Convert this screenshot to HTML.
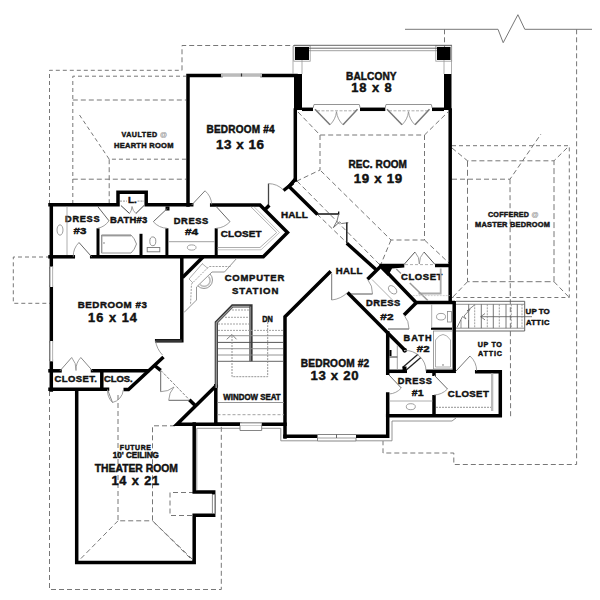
<!DOCTYPE html>
<html><head><meta charset="utf-8"><style>
html,body{margin:0;padding:0;background:#fff;width:600px;height:600px;overflow:hidden}
svg{display:block}
text{font-family:"Liberation Sans",sans-serif;font-weight:bold;stroke:#111;stroke-width:0.45px}
</style></head><body>
<svg width="600" height="600" viewBox="0 0 600 600">
<rect width="600" height="600" fill="#fff"/>
<polyline points="405,29.3 498,29.3 503.2,42.7 517.9,14.7 524.8,29.3 592,29.3" fill="none" stroke="#777" stroke-width="1" stroke-linecap="butt" stroke-linejoin="miter"/>
<polyline points="444.5,29.3 444.5,47" fill="none" stroke="#777" stroke-width="1.0" stroke-dasharray="5 3" stroke-dashoffset="0"/>
<polyline points="576.6,29.3 576.6,464.5 453.8,464.5 453.8,453 383,453 383,441" fill="none" stroke="#777" stroke-width="1.0" stroke-dasharray="5 3" stroke-dashoffset="0"/>
<polyline points="182,70.3 182,45.5 294,45.5" fill="none" stroke="#777" stroke-width="1.0" stroke-dasharray="5 3" stroke-dashoffset="0"/>
<polyline points="49.5,204 49.5,70.3 182,70.3" fill="none" stroke="#777" stroke-width="1.0" stroke-dasharray="4 3" stroke-dashoffset="0"/>
<polyline points="72.8,204 72.8,76.2 186,76.2" fill="none" stroke="#777" stroke-width="1.0" stroke-dasharray="4 3" stroke-dashoffset="0"/>
<polyline points="72.8,100 186,100" fill="none" stroke="#777" stroke-width="1.0" stroke-dasharray="5 3" stroke-dashoffset="0"/>
<polyline points="79.5,115 109.2,159.2 186,159.2" fill="none" stroke="#777" stroke-width="1.0" stroke-dasharray="4 3" stroke-dashoffset="0"/>
<polyline points="109.2,159.2 109.2,204" fill="none" stroke="#777" stroke-width="1.0" stroke-dasharray="5 3" stroke-dashoffset="0"/>
<polyline points="72.8,179.2 186,179.2" fill="none" stroke="#777" stroke-width="1.0" stroke-dasharray="5 3" stroke-dashoffset="0"/>
<polyline points="50,257 13.3,257 13.3,303.3 50,303.3" fill="none" stroke="#777" stroke-width="1.0" stroke-dasharray="4 3" stroke-dashoffset="0"/>
<polyline points="49.5,391 49.5,589.5 221.3,589.5 221.3,425.8" fill="none" stroke="#777" stroke-width="1.0" stroke-dasharray="5 3" stroke-dashoffset="0"/>
<polyline points="118,395 118,520.8 152.5,520.8" fill="none" stroke="#777" stroke-width="1.0" stroke-dasharray="5 3" stroke-dashoffset="0"/>
<polyline points="175,425.8 152.5,425.8 152.5,520.8 194,560.8" fill="none" stroke="#777" stroke-width="1.0" stroke-dasharray="5 3" stroke-dashoffset="0"/>
<polyline points="118,520.8 78.7,560.8" fill="none" stroke="#777" stroke-width="1.0" stroke-dasharray="5 3" stroke-dashoffset="0"/>
<polyline points="152.5,520.8 194,562" fill="none" stroke="#777" stroke-width="1.0" stroke-dasharray="5 3" stroke-dashoffset="0"/>
<polyline points="194,492.5 170,492.5 170,515.5 194,515.5" fill="none" stroke="#777" stroke-width="1.0" stroke-dasharray="5 3" stroke-dashoffset="0"/>
<polyline points="298,112 320,135 424.5,135 448,112" fill="none" stroke="#777" stroke-width="1.0" stroke-dasharray="5 3" stroke-dashoffset="0"/>
<polyline points="320,135 320,170 297,181" fill="none" stroke="#777" stroke-width="1.0" stroke-dasharray="5 3" stroke-dashoffset="0"/>
<polyline points="424.5,135 424.5,240 391,240 320,170" fill="none" stroke="#777" stroke-width="1.0" stroke-dasharray="5 3" stroke-dashoffset="0"/>
<polyline points="391,240 381,264" fill="none" stroke="#777" stroke-width="1.0" stroke-dasharray="5 3" stroke-dashoffset="0"/>
<polyline points="424.5,240 449,263" fill="none" stroke="#777" stroke-width="1.0" stroke-dasharray="5 3" stroke-dashoffset="0"/>
<polyline points="297,181 381,266" fill="none" stroke="#777" stroke-width="1.0" stroke-dasharray="5 3" stroke-dashoffset="0"/>
<polyline points="317,214 347,243" fill="none" stroke="#777" stroke-width="1.0" stroke-dasharray="5 3" stroke-dashoffset="0"/>
<polyline points="452,145.7 569.3,145.7 569.3,297.5 452,297.5" fill="none" stroke="#777" stroke-width="1.0" stroke-dasharray="4 3" stroke-dashoffset="0"/>
<polyline points="452,148 467.5,160.8 554,160.8 569.3,145.7" fill="none" stroke="#777" stroke-width="1.0" stroke-dasharray="5 3" stroke-dashoffset="0"/>
<polyline points="467.5,160.8 467.5,281.7 554,281.7 554,160.8" fill="none" stroke="#777" stroke-width="1.0" stroke-dasharray="6 3" stroke-dashoffset="0"/>
<polyline points="467.5,281.7 452,298" fill="none" stroke="#777" stroke-width="1.0" stroke-dasharray="5 3" stroke-dashoffset="0"/>
<polyline points="554,281.7 569.3,297.5" fill="none" stroke="#777" stroke-width="1.0" stroke-dasharray="5 3" stroke-dashoffset="0"/>
<polyline points="452,179.2 510,179.2 541,134" fill="none" stroke="#777" stroke-width="1.0" stroke-dasharray="5 3" stroke-dashoffset="0"/>
<polyline points="510,179.2 510.6,417.5" fill="none" stroke="#777" stroke-width="1.0" stroke-dasharray="5 3" stroke-dashoffset="0"/>
<polyline points="188,205 188,75.5 221,75.5" fill="none" stroke="#000" stroke-width="3.5" stroke-linejoin="miter" stroke-linecap="square"/>
<polyline points="262,75.5 296,75.5" fill="none" stroke="#000" stroke-width="3.5" stroke-linejoin="miter" stroke-linecap="square"/>
<rect x="294" y="74" width="8" height="36" fill="#000"/>
<polyline points="295.3,110 295.3,180" fill="none" stroke="#000" stroke-width="3.5" stroke-linejoin="miter" stroke-linecap="square"/>
<polyline points="295.5,179 289,186.5 317.5,214.5" fill="none" stroke="#000" stroke-width="3.5" stroke-linejoin="miter" stroke-linecap="butt"/>
<polyline points="293,183 283.5,190.5" fill="none" stroke="#000" stroke-width="3.5" stroke-linejoin="miter" stroke-linecap="butt"/>
<polyline points="317,214 338.7,214 338.7,211.5" fill="none" stroke="#111" stroke-width="1.3" stroke-linecap="butt" stroke-linejoin="miter"/>
<polyline points="338.7,214 337,221 333.3,227.7 339.5,222 341.5,223.5 348.3,222.7" fill="none" stroke="#666" stroke-width="0.9" stroke-linecap="butt" stroke-linejoin="miter"/>
<polyline points="346.8,222.5 346.8,243.5" fill="none" stroke="#222" stroke-width="1.5" stroke-linecap="butt" stroke-linejoin="miter"/>
<polyline points="346.8,243.3 376.5,270" fill="none" stroke="#000" stroke-width="3.5" stroke-linejoin="miter" stroke-linecap="butt"/>
<polyline points="367.5,279.3 381.5,265.5" fill="none" stroke="#000" stroke-width="3.5" stroke-linejoin="miter" stroke-linecap="butt"/>
<polyline points="381,266 416,302.5 455,302.5" fill="none" stroke="#000" stroke-width="3.5" stroke-linejoin="miter" stroke-linecap="butt"/>
<polyline points="416.5,302.5 404,315" fill="none" stroke="#000" stroke-width="3.5" stroke-linejoin="miter" stroke-linecap="butt"/>
<polygon points="379,263.8 404.3,263.8 404.3,267.5 392,268.5 388,276 381,269" fill="#000"/>
<rect x="293.8" y="45.8" width="16.4" height="15.4" fill="none" stroke="#999" stroke-width="0.8"/>
<rect x="435.8" y="45.8" width="15.9" height="15.4" fill="none" stroke="#999" stroke-width="0.8"/>
<rect x="295" y="47" width="14" height="13" fill="#000"/>
<rect x="437" y="47" width="13.5" height="13" fill="#000"/>
<polyline points="293,46 293,74" fill="none" stroke="#999" stroke-width="0.8" stroke-linecap="butt" stroke-linejoin="miter"/>
<polyline points="302,60 302,74" fill="none" stroke="#999" stroke-width="0.8" stroke-linecap="butt" stroke-linejoin="miter"/>
<polyline points="444,60 444,74" fill="none" stroke="#999" stroke-width="0.8" stroke-linecap="butt" stroke-linejoin="miter"/>
<polyline points="451.5,46 451.5,74" fill="none" stroke="#999" stroke-width="0.8" stroke-linecap="butt" stroke-linejoin="miter"/>
<polyline points="294,45.3 452,45.3" fill="none" stroke="#555" stroke-width="0.9" stroke-linecap="butt" stroke-linejoin="miter"/>
<polyline points="309,48.2 437,48.2" fill="none" stroke="#555" stroke-width="0.9" stroke-linecap="butt" stroke-linejoin="miter"/>
<polyline points="309,50.7 437,50.7" fill="none" stroke="#888" stroke-width="0.8" stroke-linecap="butt" stroke-linejoin="miter"/>
<polyline points="302,109.3 313,109.3" fill="none" stroke="#000" stroke-width="3.5" stroke-linejoin="miter" stroke-linecap="butt"/>
<polyline points="360,109.3 385.3,109.3" fill="none" stroke="#000" stroke-width="3.5" stroke-linejoin="miter" stroke-linecap="butt"/>
<polyline points="432,109.3 444,109.3" fill="none" stroke="#000" stroke-width="3.5" stroke-linejoin="miter" stroke-linecap="butt"/>
<rect x="444" y="74" width="7.5" height="36" fill="#000"/>
<polyline points="450.2,110 450.2,302" fill="none" stroke="#000" stroke-width="3.5" stroke-linejoin="miter" stroke-linecap="square"/>
<polyline points="435,265.5 450,265.5" fill="none" stroke="#000" stroke-width="3.5" stroke-linejoin="miter" stroke-linecap="butt"/>
<polyline points="454.2,301 454.2,372" fill="none" stroke="#000" stroke-width="3.5" stroke-linejoin="miter" stroke-linecap="butt"/>
<polyline points="431,328.7 452,328.7" fill="none" stroke="#000" stroke-width="2.2" stroke-linejoin="miter" stroke-linecap="butt"/>
<polyline points="285,437 285,316.7 329.5,272.5" fill="none" stroke="#000" stroke-width="3.5" stroke-linejoin="miter" stroke-linecap="square"/>
<polyline points="347.5,292.5 404.7,350" fill="none" stroke="#000" stroke-width="3.5" stroke-linejoin="miter" stroke-linecap="butt"/>
<polyline points="387.7,331 387.7,375" fill="none" stroke="#000" stroke-width="3.5" stroke-linejoin="miter" stroke-linecap="butt"/>
<polyline points="387.7,394 387.7,436.2 356,436.2" fill="none" stroke="#000" stroke-width="3.5" stroke-linejoin="miter" stroke-linecap="square"/>
<polyline points="317.5,436.2 285,436.2" fill="none" stroke="#000" stroke-width="3.5" stroke-linejoin="miter" stroke-linecap="square"/>
<polyline points="387.7,371.3 407,371.3" fill="none" stroke="#000" stroke-width="3.5" stroke-linejoin="miter" stroke-linecap="butt"/>
<polyline points="426,371.3 456,371.3" fill="none" stroke="#000" stroke-width="3.5" stroke-linejoin="miter" stroke-linecap="butt"/>
<polyline points="476.7,371.7 500.3,371.7 500.3,415.8 387.7,415.8" fill="none" stroke="#000" stroke-width="3.5" stroke-linejoin="miter" stroke-linecap="square"/>
<polyline points="434,371 434,376" fill="none" stroke="#000" stroke-width="3.5" stroke-linejoin="miter" stroke-linecap="butt"/>
<polyline points="434,395 434,416" fill="none" stroke="#000" stroke-width="3.5" stroke-linejoin="miter" stroke-linecap="butt"/>
<polyline points="51.3,204.8 51.3,267" fill="none" stroke="#000" stroke-width="3.5" stroke-linejoin="miter" stroke-linecap="square"/>
<polyline points="51.3,287 51.3,341" fill="none" stroke="#000" stroke-width="3.5" stroke-linejoin="miter" stroke-linecap="square"/>
<polyline points="51.3,361 51.3,390" fill="none" stroke="#000" stroke-width="3.5" stroke-linejoin="miter" stroke-linecap="square"/>
<polyline points="50,204.8 118,204.8 118,192.2 146.2,192.2 146.2,204.8 191.7,204.8" fill="none" stroke="#000" stroke-width="3.5" stroke-linejoin="miter" stroke-linecap="square"/>
<polyline points="211.7,205 260,205 287.5,232.5 263.3,256.8 91.7,256.8" fill="none" stroke="#000" stroke-width="3.5" stroke-linejoin="miter" stroke-linecap="square"/>
<polyline points="50,256.8 73.3,256.8" fill="none" stroke="#000" stroke-width="3.5" stroke-linejoin="miter" stroke-linecap="square"/>
<polyline points="98,228.3 98,257" fill="none" stroke="#000" stroke-width="3" stroke-linejoin="miter" stroke-linecap="butt"/>
<polyline points="141,233.8 141,257" fill="none" stroke="#000" stroke-width="3" stroke-linejoin="miter" stroke-linecap="butt"/>
<polyline points="166.9,228.3 166.9,257" fill="none" stroke="#000" stroke-width="3" stroke-linejoin="miter" stroke-linecap="butt"/>
<polyline points="216.2,228.3 216.2,257" fill="none" stroke="#000" stroke-width="3" stroke-linejoin="miter" stroke-linecap="butt"/>
<rect x="165.5" y="206.5" width="4" height="4" fill="#000"/>
<polyline points="181.8,257 181.8,340.8 156.7,340.8" fill="none" stroke="#000" stroke-width="3.5" stroke-linejoin="miter" stroke-linecap="square"/>
<polyline points="182.5,277.5 203,257" fill="none" stroke="#000" stroke-width="3.5" stroke-linejoin="miter" stroke-linecap="butt"/>
<polyline points="50,370.8 60,370.8" fill="none" stroke="#000" stroke-width="3.5" stroke-linejoin="miter" stroke-linecap="square"/>
<polyline points="92.5,370.8 147.5,370.8" fill="none" stroke="#000" stroke-width="3.5" stroke-linejoin="miter" stroke-linecap="square"/>
<polyline points="50,389.3 107.5,389.3" fill="none" stroke="#000" stroke-width="3.5" stroke-linejoin="miter" stroke-linecap="square"/>
<polyline points="101.8,370.8 101.8,389.3" fill="none" stroke="#000" stroke-width="3.5" stroke-linejoin="miter" stroke-linecap="butt"/>
<polyline points="123.5,389.6 128.5,389.6 163.5,357" fill="none" stroke="#000" stroke-width="3.5" stroke-linejoin="miter" stroke-linecap="butt"/>
<polyline points="154,365 160.7,370.3" fill="none" stroke="#000" stroke-width="3.5" stroke-linejoin="miter" stroke-linecap="butt"/>
<polyline points="189.3,399.7 194.7,405" fill="none" stroke="#000" stroke-width="3.5" stroke-linejoin="miter" stroke-linecap="butt"/>
<polyline points="215.8,385.8 215.8,424.2 285,424.2" fill="none" stroke="#000" stroke-width="3.5" stroke-linejoin="miter" stroke-linecap="square"/>
<polyline points="215.8,386 177,424.2 240,424.2" fill="none" stroke="#000" stroke-width="3.5" stroke-linejoin="miter" stroke-linecap="square"/>
<polyline points="76.7,390 76.7,562.5 194.2,562.5 194.2,515.3 213.7,515.3 213.7,492 194.2,492 194.2,424" fill="none" stroke="#000" stroke-width="3.5" stroke-linejoin="miter" stroke-linecap="square"/>
<text x="371.3" y="79.7" font-size="10.15" text-anchor="middle" textLength="50.5" lengthAdjust="spacing" fill="#111">BALCONY</text>
<text x="371.5" y="92" font-size="12.89" text-anchor="middle" textLength="40.5" lengthAdjust="spacing" fill="#111">18 x 8</text>
<text x="240.5" y="132.65" font-size="10.01" text-anchor="middle" textLength="68" lengthAdjust="spacing" fill="#111">BEDROOM #4</text>
<text x="240" y="149.4" font-size="13.44" text-anchor="middle" textLength="48" lengthAdjust="spacing" fill="#111">13 x 16</text>
<text x="377.7" y="167.95" font-size="10.01" text-anchor="middle" textLength="58.5" lengthAdjust="spacing" fill="#111">REC. ROOM</text>
<text x="378" y="183.05" font-size="13.31" text-anchor="middle" textLength="48.5" lengthAdjust="spacing" fill="#111">19 x 19</text>
<text x="144.2" y="136.8" font-size="7.13" text-anchor="middle" textLength="45.5" lengthAdjust="spacing" fill="#222">VAULTED <tspan fill="#999" style="stroke:#aaa;stroke-width:0.2px">@</tspan></text>
<text x="143.7" y="147.75" font-size="7.54" text-anchor="middle" textLength="59.5" lengthAdjust="spacing" fill="#222">HEARTH ROOM</text>
<text x="513.2" y="216.8" font-size="7.13" text-anchor="middle" textLength="50.5" lengthAdjust="spacing" fill="#222">COFFERED <tspan fill="#999" style="stroke:#aaa;stroke-width:0.2px">@</tspan></text>
<text x="512.5" y="227.1" font-size="7.41" text-anchor="middle" textLength="75" lengthAdjust="spacing" fill="#222">MASTER BEDROOM</text>
<text x="112.3" y="308.35" font-size="9.74" text-anchor="middle" textLength="69" lengthAdjust="spacing" fill="#111">BEDROOM #3</text>
<text x="112.5" y="321.65" font-size="12.76" text-anchor="middle" textLength="48.8" lengthAdjust="spacing" fill="#111">16 x 14</text>
<text x="335" y="367" font-size="10.15" text-anchor="middle" textLength="68.5" lengthAdjust="spacing" fill="#111">BEDROOM #2</text>
<text x="334.5" y="379.6" font-size="13.17" text-anchor="middle" textLength="48" lengthAdjust="spacing" fill="#111">13 x 20</text>
<text x="135.3" y="450" font-size="6.86" text-anchor="middle" textLength="31" lengthAdjust="spacing" fill="#111">FUTURE</text>
<text x="135.8" y="458.4" font-size="8.23" text-anchor="middle" textLength="46" lengthAdjust="spacingAndGlyphs" fill="#111">10' CEILING</text>
<text x="136.3" y="472.2" font-size="10.7" text-anchor="middle" textLength="83" lengthAdjust="spacingAndGlyphs" fill="#111">THEATER ROOM</text>
<text x="135.3" y="484.95" font-size="12.76" text-anchor="middle" textLength="47.8" lengthAdjust="spacing" fill="#111">14 x 21</text>
<text x="82.3" y="221.85" font-size="9.19" text-anchor="middle" textLength="34.5" lengthAdjust="spacing" fill="#111">DRESS</text>
<text x="80" y="234.2" font-size="9.6" text-anchor="middle" textLength="12.8" lengthAdjust="spacingAndGlyphs" fill="#111">#3</text>
<text x="128.6" y="222.65" font-size="9.47" text-anchor="middle" textLength="37.2" lengthAdjust="spacing" fill="#111">BATH#3</text>
<text x="191" y="223.7" font-size="9.33" text-anchor="middle" textLength="34.7" lengthAdjust="spacing" fill="#111">DRESS</text>
<text x="191.6" y="235.2" font-size="9.88" text-anchor="middle" textLength="13.2" lengthAdjust="spacingAndGlyphs" fill="#111">#4</text>
<text x="241.2" y="236.6" font-size="9.88" text-anchor="middle" textLength="40.7" lengthAdjust="spacing" fill="#111">CLOSET</text>
<text x="294.4" y="217.5" font-size="9.88" text-anchor="middle" textLength="26.6" lengthAdjust="spacing" fill="#111">HALL</text>
<text x="349" y="274.2" font-size="9.6" text-anchor="middle" textLength="26.6" lengthAdjust="spacing" fill="#111">HALL</text>
<text x="421.7" y="280.05" font-size="9.47" text-anchor="middle" textLength="41.3" lengthAdjust="spacing" fill="#111">CLOSET</text>
<text x="383.1" y="306" font-size="9.33" text-anchor="middle" textLength="34.2" lengthAdjust="spacing" fill="#111">DRESS</text>
<text x="386.9" y="319.85" font-size="9.74" text-anchor="middle" textLength="13.1" lengthAdjust="spacingAndGlyphs" fill="#111">#2</text>
<text x="417.5" y="340.65" font-size="9.19" text-anchor="middle" textLength="28.2" lengthAdjust="spacing" fill="#111">BATH</text>
<text x="423.2" y="352.45" font-size="9.74" text-anchor="middle" textLength="12.7" lengthAdjust="spacingAndGlyphs" fill="#111">#2</text>
<text x="414.9" y="383.65" font-size="9.19" text-anchor="middle" textLength="34.1" lengthAdjust="spacing" fill="#111">DRESS</text>
<text x="417.7" y="396.1" font-size="9.33" text-anchor="middle" textLength="11.7" lengthAdjust="spacingAndGlyphs" fill="#111">#1</text>
<text x="468.3" y="396.5" font-size="9.6" text-anchor="middle" textLength="41" lengthAdjust="spacing" fill="#111">CLOSET</text>
<text x="489.8" y="346.8" font-size="7.13" text-anchor="middle" textLength="24.2" lengthAdjust="spacing" fill="#111">UP TO</text>
<text x="490" y="355.5" font-size="7.13" text-anchor="middle" textLength="23.8" lengthAdjust="spacing" fill="#111">ATTIC</text>
<text x="537.7" y="314.15" font-size="7.96" text-anchor="middle" textLength="24.2" lengthAdjust="spacing" fill="#111">UP TO</text>
<text x="537.7" y="325.05" font-size="7.54" text-anchor="middle" textLength="23.4" lengthAdjust="spacing" fill="#111">ATTIC</text>
<text x="254.5" y="280.95" font-size="9.47" text-anchor="middle" textLength="59.5" lengthAdjust="spacing" fill="#111">COMPUTER</text>
<text x="255.2" y="294" font-size="9.6" text-anchor="middle" textLength="46.6" lengthAdjust="spacing" fill="#111">STATION</text>
<text x="252" y="399.6" font-size="8.5" text-anchor="middle" textLength="57.3" lengthAdjust="spacingAndGlyphs" fill="#111">WINDOW SEAT</text>
<text x="75.7" y="382.15" font-size="9.47" text-anchor="middle" textLength="42.4" lengthAdjust="spacing" fill="#111">CLOSET.</text>
<text x="118.3" y="382.15" font-size="9.47" text-anchor="middle" textLength="28.7" lengthAdjust="spacingAndGlyphs" fill="#111">CLOS.</text>
<text x="132.3" y="202.95" font-size="9.19" text-anchor="middle" textLength="8.8" lengthAdjust="spacingAndGlyphs" fill="#111">L.</text>
<text x="267.6" y="321.5" font-size="8.23" text-anchor="middle" textLength="10.6" lengthAdjust="spacingAndGlyphs" fill="#111">DN</text>
<polyline points="313.1,108 314,104.5 359.3,104.5 360.2,108" fill="none" stroke="#888" stroke-width="0.9" stroke-linecap="butt" stroke-linejoin="miter"/>
<polyline points="317,110.8 356,110.8" fill="none" stroke="#999" stroke-width="0.8" stroke-dasharray="3 1.5" stroke-dashoffset="0"/>
<polyline points="315,109.3 330,124.8" fill="none" stroke="#777" stroke-width="1.5" stroke-linecap="butt" stroke-linejoin="miter"/>
<path d="M330,124.8 A21.57,21.57 0 0 0 336.5,111.7" fill="none" stroke="#888" stroke-width="0.8"/>
<polyline points="357.5,109.3 343,124.8" fill="none" stroke="#777" stroke-width="1.5" stroke-linecap="butt" stroke-linejoin="miter"/>
<path d="M343,124.8 A21.22,21.22 0 0 1 336.5,111.7" fill="none" stroke="#888" stroke-width="0.8"/>
<polyline points="385.1,108 386,104.5 431.3,104.5 432.2,108" fill="none" stroke="#888" stroke-width="0.9" stroke-linecap="butt" stroke-linejoin="miter"/>
<polyline points="389,110.8 428,110.8" fill="none" stroke="#999" stroke-width="0.8" stroke-dasharray="3 1.5" stroke-dashoffset="0"/>
<polyline points="387,109.3 402,124.8" fill="none" stroke="#777" stroke-width="1.5" stroke-linecap="butt" stroke-linejoin="miter"/>
<path d="M402,124.8 A21.57,21.57 0 0 0 408.5,111.7" fill="none" stroke="#888" stroke-width="0.8"/>
<polyline points="429.5,109.3 415,124.8" fill="none" stroke="#777" stroke-width="1.5" stroke-linecap="butt" stroke-linejoin="miter"/>
<path d="M415,124.8 A21.22,21.22 0 0 1 408.5,111.7" fill="none" stroke="#888" stroke-width="0.8"/>
<polyline points="404,264.5 415,252" fill="none" stroke="#555" stroke-width="1.0" stroke-linecap="butt" stroke-linejoin="miter"/>
<path d="M415,252 A16.65,16.65 0 0 1 419.3,264" fill="none" stroke="#888" stroke-width="0.8"/>
<polyline points="435,264.5 424,252" fill="none" stroke="#555" stroke-width="1.0" stroke-linecap="butt" stroke-linejoin="miter"/>
<path d="M424,252 A16.65,16.65 0 0 0 419.3,264" fill="none" stroke="#888" stroke-width="0.8"/>
<polyline points="405,264.6 434,264.6" fill="none" stroke="#999" stroke-width="0.8" stroke-dasharray="3 2" stroke-dashoffset="0"/>
<polyline points="268.5,205.5 268.5,183.6" fill="none" stroke="#444" stroke-width="1.3" stroke-linecap="butt" stroke-linejoin="miter"/>
<path d="M268.5,183.6 A21.9,21.9 0 0 1 283.5,190" fill="none" stroke="#888" stroke-width="0.8"/>
<polyline points="264.3,210.2 269.3,205.2" fill="none" stroke="#000" stroke-width="3.5" stroke-linejoin="miter" stroke-linecap="butt"/>
<polyline points="191.7,205 205,190.8" fill="none" stroke="#777" stroke-width="1.0" stroke-linecap="butt" stroke-linejoin="miter"/>
<path d="M205,190.8 A19.46,19.46 0 0 1 211.7,204.5" fill="none" stroke="#888" stroke-width="0.8"/>
<polyline points="216.2,206.5 230,221.7" fill="none" stroke="#666" stroke-width="1.0" stroke-linecap="butt" stroke-linejoin="miter"/>
<path d="M230,221.7 A20.53,20.53 0 0 1 216.2,228.3" fill="none" stroke="#888" stroke-width="0.8"/>
<polyline points="167.5,208.3 153.3,221.7" fill="none" stroke="#666" stroke-width="1.0" stroke-linecap="butt" stroke-linejoin="miter"/>
<path d="M153.3,221.7 A19.52,19.52 0 0 0 167.2,228.3" fill="none" stroke="#888" stroke-width="0.8"/>
<polyline points="97.7,206.5 109,220.8" fill="none" stroke="#666" stroke-width="1.0" stroke-linecap="butt" stroke-linejoin="miter"/>
<path d="M109,220.8 A18.23,18.23 0 0 1 97.7,228.3" fill="none" stroke="#888" stroke-width="0.8"/>
<polyline points="91.7,256.8 79,242.5" fill="none" stroke="#666" stroke-width="1.0" stroke-linecap="butt" stroke-linejoin="miter"/>
<path d="M79,242.5 A19.13,19.13 0 0 0 73.3,256.8" fill="none" stroke="#888" stroke-width="0.8"/>
<polyline points="120.9,205.5 129.5,213.5" fill="none" stroke="#444" stroke-width="1.0" stroke-linecap="butt" stroke-linejoin="miter"/>
<path d="M129.5,213.5 A11.75,11.75 0 0 0 132,206.5" fill="none" stroke="#888" stroke-width="0.8"/>
<polyline points="144,205.5 135.9,213.5" fill="none" stroke="#444" stroke-width="1.0" stroke-linecap="butt" stroke-linejoin="miter"/>
<path d="M135.9,213.5 A11.38,11.38 0 0 1 132,206.5" fill="none" stroke="#888" stroke-width="0.8"/>
<polyline points="120,201.1 127,201.1" fill="none" stroke="#777" stroke-width="0.8" stroke-dasharray="2 1" stroke-dashoffset="0"/>
<polyline points="137.5,201.1 144.5,201.1" fill="none" stroke="#777" stroke-width="0.8" stroke-dasharray="2 1" stroke-dashoffset="0"/>
<polyline points="331.7,273.5 331.7,300" fill="none" stroke="#777" stroke-width="1.0" stroke-linecap="butt" stroke-linejoin="miter"/>
<path d="M331.7,300 A26.5,26.5 0 0 0 347.5,292.5" fill="none" stroke="#888" stroke-width="0.8"/>
<polyline points="351,294 372.5,294" fill="none" stroke="#555" stroke-width="1.0" stroke-linecap="butt" stroke-linejoin="miter"/>
<path d="M372.5,294 A21.5,21.5 0 0 0 367.5,279.3" fill="none" stroke="#888" stroke-width="0.8"/>
<polyline points="388,329 409,329" fill="none" stroke="#555" stroke-width="1.0" stroke-linecap="butt" stroke-linejoin="miter"/>
<path d="M409,329 A21,21 0 0 0 404,315" fill="none" stroke="#888" stroke-width="0.8"/>
<polyline points="402.6,367.6 418,354.3" fill="none" stroke="#222" stroke-width="1.3" stroke-linecap="butt" stroke-linejoin="miter"/>
<polyline points="405.4,370.8 420.8,357.5" fill="none" stroke="#222" stroke-width="1.3" stroke-linecap="butt" stroke-linejoin="miter"/>
<rect x="402.5" y="366.5" width="4" height="4" fill="#000"/>
<ellipse cx="404.7" cy="350.3" rx="1.6" ry="1.6" fill="none" stroke="#000" stroke-width="1.5"/>
<path d="M419.3,356 A20.27,20.27 0 0 0 404.7,350.5" fill="none" stroke="#888" stroke-width="0.8"/>
<path d="M419.3,356 A20.27,20.27 0 0 1 426,371.3" fill="none" stroke="#888" stroke-width="0.8"/>
<polyline points="389,375 401.3,388" fill="none" stroke="#666" stroke-width="1.0" stroke-linecap="butt" stroke-linejoin="miter"/>
<path d="M401.3,388 A17.9,17.9 0 0 1 389,394" fill="none" stroke="#888" stroke-width="0.8"/>
<polyline points="434,375 447.5,389" fill="none" stroke="#666" stroke-width="1.0" stroke-linecap="butt" stroke-linejoin="miter"/>
<path d="M447.5,389 A19.45,19.45 0 0 1 434,395" fill="none" stroke="#888" stroke-width="0.8"/>
<polyline points="455.8,371.3 470,356" fill="none" stroke="#777" stroke-width="1.0" stroke-linecap="butt" stroke-linejoin="miter"/>
<path d="M470,356 A20.87,20.87 0 0 1 476.7,371" fill="none" stroke="#888" stroke-width="0.8"/>
<polyline points="181.8,340.8 155.5,340.8" fill="none" stroke="#333" stroke-width="2.6" stroke-linecap="butt" stroke-linejoin="miter"/>
<path d="M155.5,340.8 A26.3,26.3 0 0 0 162.5,355" fill="none" stroke="#888" stroke-width="0.8"/>
<polyline points="60,370.8 71.7,357.5" fill="none" stroke="#888" stroke-width="1.0" stroke-linecap="butt" stroke-linejoin="miter"/>
<path d="M71.7,357.5 A17.71,17.71 0 0 1 76,370.5" fill="none" stroke="#888" stroke-width="0.8"/>
<polyline points="92.5,370.8 80.8,357.5" fill="none" stroke="#888" stroke-width="1.0" stroke-linecap="butt" stroke-linejoin="miter"/>
<path d="M80.8,357.5 A17.71,17.71 0 0 0 76,370.5" fill="none" stroke="#888" stroke-width="0.8"/>
<polyline points="107.5,389.5 112.5,402.5" fill="none" stroke="#888" stroke-width="1.0" stroke-linecap="butt" stroke-linejoin="miter"/>
<path d="M112.5,402.5 A13.93,13.93 0 0 0 123.3,390" fill="none" stroke="#888" stroke-width="0.8"/>
<path d="M112.5,402.5 A16.9,16.9 0 0 1 107.5,390" fill="none" stroke="#888" stroke-width="0.8"/>
<polyline points="160.7,370.3 189.3,399.7" fill="none" stroke="#666" stroke-width="0.8" stroke-dasharray="3 1.5" stroke-dashoffset="0"/>
<polyline points="160.7,371 160.7,391.7" fill="none" stroke="#666" stroke-width="1.0" stroke-linecap="butt" stroke-linejoin="miter"/>
<path d="M160.7,391.7 A20.7,20.7 0 0 0 174,387" fill="none" stroke="#888" stroke-width="0.8"/>
<polyline points="189.3,400.3 168.7,400.3" fill="none" stroke="#666" stroke-width="1.0" stroke-linecap="butt" stroke-linejoin="miter"/>
<path d="M168.7,400.3 A20.6,20.6 0 0 1 174,387" fill="none" stroke="#888" stroke-width="0.8"/>
<rect x="221" y="73.3" width="41" height="3.5" fill="#bbb"/>
<polyline points="241.5,73.5 241.5,76.5" fill="none" stroke="#333" stroke-width="1.2" stroke-linecap="butt" stroke-linejoin="miter"/>
<rect x="49.3" y="266.6" width="4" height="20.4" fill="#fff"/>
<polyline points="49.8,266.6 49.8,287" fill="none" stroke="#444" stroke-width="1" stroke-linecap="butt" stroke-linejoin="miter"/>
<polyline points="52.6,266.6 52.6,287" fill="none" stroke="#aaa" stroke-width="0.9" stroke-linecap="butt" stroke-linejoin="miter"/>
<rect x="49.3" y="341" width="4" height="20.3" fill="#fff"/>
<polyline points="49.8,341 49.8,361.3" fill="none" stroke="#444" stroke-width="1" stroke-linecap="butt" stroke-linejoin="miter"/>
<polyline points="52.6,341 52.6,361.3" fill="none" stroke="#aaa" stroke-width="0.9" stroke-linecap="butt" stroke-linejoin="miter"/>
<rect x="240" y="422.6" width="21.7" height="3.2" fill="#fff"/>
<polyline points="240,423 261.7,423" fill="none" stroke="#888" stroke-width="0.8" stroke-linecap="butt" stroke-linejoin="miter"/>
<polyline points="240,425.5 240,430.5 261.7,430.5 261.7,425.5" fill="none" stroke="#777" stroke-width="0.9" stroke-linecap="butt" stroke-linejoin="miter"/>
<rect x="317.5" y="434.5" width="38.5" height="3.5" fill="#fff"/>
<polyline points="317.5,434.5 356,434.5" fill="none" stroke="#777" stroke-width="0.9" stroke-linecap="butt" stroke-linejoin="miter"/>
<polyline points="317.5,438 356,438" fill="none" stroke="#888" stroke-width="0.8" stroke-linecap="butt" stroke-linejoin="miter"/>
<polyline points="317.5,438 317.5,441 356,441 356,438" fill="none" stroke="#777" stroke-width="0.9" stroke-linecap="butt" stroke-linejoin="miter"/>
<polyline points="336.5,434.5 336.5,438" fill="none" stroke="#555" stroke-width="0.9" stroke-linecap="butt" stroke-linejoin="miter"/>
<rect x="212.2" y="494.5" width="3" height="19" fill="#fff"/>
<polyline points="212.5,494.5 212.5,513.5" fill="none" stroke="#888" stroke-width="0.8" stroke-linecap="butt" stroke-linejoin="miter"/>
<polyline points="215,494.5 215,513.5" fill="none" stroke="#555" stroke-width="0.9" stroke-linecap="butt" stroke-linejoin="miter"/>
<polyline points="196.8,490 196.8,428.3 240,428.3" fill="none" stroke="#888" stroke-width="0.9" stroke-linecap="butt" stroke-linejoin="miter"/>
<polyline points="261.7,428.3 280.8,428.3 280.8,440.8 317.5,440.8" fill="none" stroke="#888" stroke-width="0.9" stroke-linecap="butt" stroke-linejoin="miter"/>
<polyline points="356,440.8 392,440.8 392,421 452,421 456,418" fill="none" stroke="#888" stroke-width="0.9" stroke-linecap="butt" stroke-linejoin="miter"/>
<polyline points="216.3,388 216.3,322.5 232.5,305.8 251,305.8 251,361.3" fill="none" stroke="#333" stroke-width="3.2" stroke-linejoin="miter" stroke-linecap="butt"/>
<polyline points="216.3,388 216.3,322.8 232.7,306.3 249.5,306.3" fill="none" stroke="#999" stroke-width="1.3" stroke-linecap="butt" stroke-linejoin="miter"/>
<polyline points="250.6,306.5 250.6,361" fill="none" stroke="#888" stroke-width="1.0" stroke-linecap="butt" stroke-linejoin="miter"/>
<polyline points="232,310 249,310" fill="none" stroke="#999" stroke-width="0.9" stroke-dasharray="2 1" stroke-dashoffset="0"/>
<polyline points="225,317.3 249,317.3" fill="none" stroke="#999" stroke-width="0.9" stroke-dasharray="2 1" stroke-dashoffset="0"/>
<polyline points="218,324 249,324" fill="none" stroke="#999" stroke-width="0.9" stroke-dasharray="2 1" stroke-dashoffset="0"/>
<polyline points="218,330.4 283,330.4" fill="none" stroke="#999" stroke-width="0.9" stroke-dasharray="2 1" stroke-dashoffset="0"/>
<polyline points="218,335.7 283,335.7" fill="none" stroke="#888" stroke-width="0.9" stroke-linecap="butt" stroke-linejoin="miter"/>
<polyline points="218,342.4 283,342.4" fill="none" stroke="#444" stroke-width="0.9" stroke-linecap="butt" stroke-linejoin="miter"/>
<polyline points="218,348.7 283,348.7" fill="none" stroke="#888" stroke-width="0.9" stroke-linecap="butt" stroke-linejoin="miter"/>
<polyline points="218,355 283,355" fill="none" stroke="#888" stroke-width="0.9" stroke-linecap="butt" stroke-linejoin="miter"/>
<polyline points="218,361.3 283,361.3" fill="none" stroke="#555" stroke-width="0.9" stroke-linecap="butt" stroke-linejoin="miter"/>
<polyline points="232,336 232,376.7 267.7,376.7 267.7,322" fill="none" stroke="#888" stroke-width="0.9" stroke-dasharray="2 1" stroke-dashoffset="0"/>
<polyline points="226.7,339.3 232,334.5 236.5,339.3" fill="none" stroke="#777" stroke-width="0.9" stroke-linecap="butt" stroke-linejoin="miter"/>
<polyline points="217.5,402.5 284,402.5" fill="none" stroke="#888" stroke-width="0.9" stroke-linecap="butt" stroke-linejoin="miter"/>
<polyline points="217.5,414.7 284,414.7" fill="none" stroke="#999" stroke-width="0.9" stroke-dasharray="3 2" stroke-dashoffset="0"/>
<polyline points="456,301.3 524.7,301.3 524.7,331 456,331" fill="none" stroke="#555" stroke-width="0.9" stroke-linecap="butt" stroke-linejoin="miter"/>
<polyline points="456,304.3 524.7,304.3" fill="none" stroke="#777" stroke-width="0.8" stroke-linecap="butt" stroke-linejoin="miter"/>
<polyline points="456,328.2 524.7,328.2" fill="none" stroke="#777" stroke-width="0.8" stroke-linecap="butt" stroke-linejoin="miter"/>
<polyline points="480.7,316.7 532,316.7" fill="none" stroke="#555" stroke-width="0.8" stroke-linecap="butt" stroke-linejoin="miter"/>
<polyline points="485,313.5 480.7,316.7 485,319.9" fill="none" stroke="#666" stroke-width="0.8" stroke-linecap="butt" stroke-linejoin="miter"/>
<polyline points="468.7,304.3 468.7,328.2" fill="none" stroke="#555" stroke-width="0.8" stroke-linecap="butt" stroke-linejoin="miter"/>
<polyline points="474.7,304.3 474.7,328.2" fill="none" stroke="#888" stroke-width="0.8" stroke-dasharray="2 1" stroke-dashoffset="0"/>
<polyline points="481.3,304.3 481.3,328.2" fill="none" stroke="#555" stroke-width="0.8" stroke-linecap="butt" stroke-linejoin="miter"/>
<polyline points="487.3,304.3 487.3,328.2" fill="none" stroke="#888" stroke-width="0.8" stroke-dasharray="2 1" stroke-dashoffset="0"/>
<polyline points="493.3,304.3 493.3,328.2" fill="none" stroke="#555" stroke-width="0.8" stroke-linecap="butt" stroke-linejoin="miter"/>
<polyline points="499.3,304.3 499.3,328.2" fill="none" stroke="#888" stroke-width="0.8" stroke-dasharray="2 1" stroke-dashoffset="0"/>
<polyline points="506,304.3 506,328.2" fill="none" stroke="#555" stroke-width="0.8" stroke-linecap="butt" stroke-linejoin="miter"/>
<polyline points="511.3,304.3 511.3,328.2" fill="none" stroke="#888" stroke-width="0.8" stroke-dasharray="2 1" stroke-dashoffset="0"/>
<polyline points="517.3,304.3 517.3,328.2" fill="none" stroke="#555" stroke-width="0.8" stroke-linecap="butt" stroke-linejoin="miter"/>
<polyline points="522,304.3 522,328.2" fill="none" stroke="#888" stroke-width="0.8" stroke-dasharray="2 1" stroke-dashoffset="0"/>
<polyline points="457,327.5 462.5,316.5 466,319 464,316 470,309.5 467,311 474.5,305" fill="none" stroke="#666" stroke-width="0.8" stroke-linecap="butt" stroke-linejoin="miter"/>
<polyline points="461,328 461,320" fill="none" stroke="#666" stroke-width="0.7" stroke-linecap="butt" stroke-linejoin="miter"/>
<polyline points="468.5,328 468.5,320" fill="none" stroke="#666" stroke-width="0.7" stroke-linecap="butt" stroke-linejoin="miter"/>
<ellipse cx="60" cy="230" rx="3" ry="5.2" fill="none" stroke="#888" stroke-width="0.8"/>
<polyline points="67,206.5 67,255" fill="none" stroke="#999" stroke-width="0.8" stroke-linecap="butt" stroke-linejoin="miter"/>
<path d="M101.5,235 H131 Q134.5,238 136.5,244 Q134.5,250 131,253 H101.5 Z" fill="none" stroke="#888" stroke-width="0.9"/>
<polyline points="102,235.6 131,235.6" fill="none" stroke="#999" stroke-width="1.6" stroke-linecap="butt" stroke-linejoin="miter"/>
<polyline points="101.8,236 101.8,252.5" fill="none" stroke="#999" stroke-width="1.2" stroke-linecap="butt" stroke-linejoin="miter"/>
<ellipse cx="104" cy="243" rx="0.6" ry="0.6" fill="none" stroke="#999" stroke-width="0.8"/>
<ellipse cx="152.8" cy="241.3" rx="3" ry="4.4" fill="none" stroke="#777" stroke-width="0.8"/>
<rect x="147.2" y="247.5" width="12.6" height="4.3" fill="none" stroke="#777" stroke-width="0.9"/>
<polyline points="168.7,241.7 214.5,241.7" fill="none" stroke="#888" stroke-width="0.8" stroke-linecap="butt" stroke-linejoin="miter"/>
<ellipse cx="191.7" cy="247.5" rx="4.3" ry="2.6" fill="none" stroke="#888" stroke-width="0.8"/>
<polyline points="217.5,247.5 260,247.5 276.7,232.5 250.8,206.7" fill="none" stroke="#999" stroke-width="0.8" stroke-linecap="butt" stroke-linejoin="miter"/>
<polyline points="217.5,249.8 261,249.8 279.5,232.5 254,206.7" fill="none" stroke="#aaa" stroke-width="0.7" stroke-linecap="butt" stroke-linejoin="miter"/>
<polyline points="237,258 224.5,272 212,272 196.5,287 196.5,300 184,312.5" fill="none" stroke="#888" stroke-width="0.9" stroke-linecap="butt" stroke-linejoin="miter"/>
<polyline points="230.5,266.5 209,266.5 191.5,284 190.5,305" fill="none" stroke="#888" stroke-width="0.8" stroke-dasharray="2 1.2" stroke-dashoffset="0"/>
<polyline points="202.5,263.5 189,279" fill="none" stroke="#999" stroke-width="0.8" stroke-linecap="butt" stroke-linejoin="miter"/>
<polyline points="202,263.5 208,268.5" fill="none" stroke="#999" stroke-width="0.8" stroke-linecap="butt" stroke-linejoin="miter"/>
<polyline points="189,279 193,283" fill="none" stroke="#999" stroke-width="0.8" stroke-linecap="butt" stroke-linejoin="miter"/>
<path d="M210,274 A6,6 0 0 1 198,286" fill="none" stroke="#888" stroke-width="0.9"/>
<path d="M208.5,276.5 A4.5,4.5 0 0 1 200,284.5" fill="none" stroke="#bbb" stroke-width="1.6"/>
<polyline points="440.7,268.4 440.7,293.5 418.5,293.5" fill="none" stroke="#aaa" stroke-width="1.8" stroke-linecap="butt" stroke-linejoin="miter"/>
<polyline points="409.8,283 427.8,300.5" fill="none" stroke="#999" stroke-width="1.5" stroke-linecap="butt" stroke-linejoin="miter"/>
<polyline points="396.3,269 401,273.5" fill="none" stroke="#999" stroke-width="1.2" stroke-linecap="butt" stroke-linejoin="miter"/>
<polyline points="412.7,295.6 450,295.6" fill="none" stroke="#bbb" stroke-width="0.7" stroke-dasharray="2 1" stroke-dashoffset="0"/>
<polyline points="372,279.5 398,305.5" fill="none" stroke="#999" stroke-width="0.8" stroke-linecap="butt" stroke-linejoin="miter"/>
<ellipse cx="392.6" cy="289.8" rx="3.2" ry="5" fill="none" stroke="#888" stroke-width="0.8" transform="rotate(-45 392.6 289.8)"/>
<polyline points="431.7,304.5 431.7,328" fill="none" stroke="#999" stroke-width="0.8" stroke-linecap="butt" stroke-linejoin="miter"/>
<ellipse cx="441" cy="316.7" rx="4.5" ry="3.3" fill="none" stroke="#888" stroke-width="0.8"/>
<rect x="447.5" y="311.5" width="4" height="10.5" fill="none" stroke="#888" stroke-width="0.8"/>
<rect x="433.5" y="331" width="19" height="38" fill="none" stroke="#888" stroke-width="0.8"/>
<path d="M435.5,367 V340 Q443,329 450.5,340 V367 Z" fill="none" stroke="#999" stroke-width="0.8"/>
<polyline points="442.5,364 443,366 443.5,364" fill="none" stroke="#999" stroke-width="0.7" stroke-linecap="butt" stroke-linejoin="miter"/>
<polyline points="397.3,345.3 397.3,369.3" fill="none" stroke="#999" stroke-width="0.9" stroke-linecap="butt" stroke-linejoin="miter"/>
<polyline points="389.5,357 397.3,357" fill="none" stroke="#333" stroke-width="1" stroke-linecap="butt" stroke-linejoin="miter"/>
<rect x="389.5" y="350" width="2" height="6" fill="#000"/>
<polyline points="389.5,401 432.5,401" fill="none" stroke="#999" stroke-width="0.8" stroke-linecap="butt" stroke-linejoin="miter"/>
<ellipse cx="410.8" cy="406.7" rx="4.5" ry="3" fill="none" stroke="#888" stroke-width="0.8"/>
<polyline points="436,407.3 491,407.3" fill="none" stroke="#888" stroke-width="0.9" stroke-dasharray="2 1" stroke-dashoffset="0"/>
<rect x="491" y="373.5" width="2.3" height="37.5" fill="#bbb"/>
</svg>
</body></html>
